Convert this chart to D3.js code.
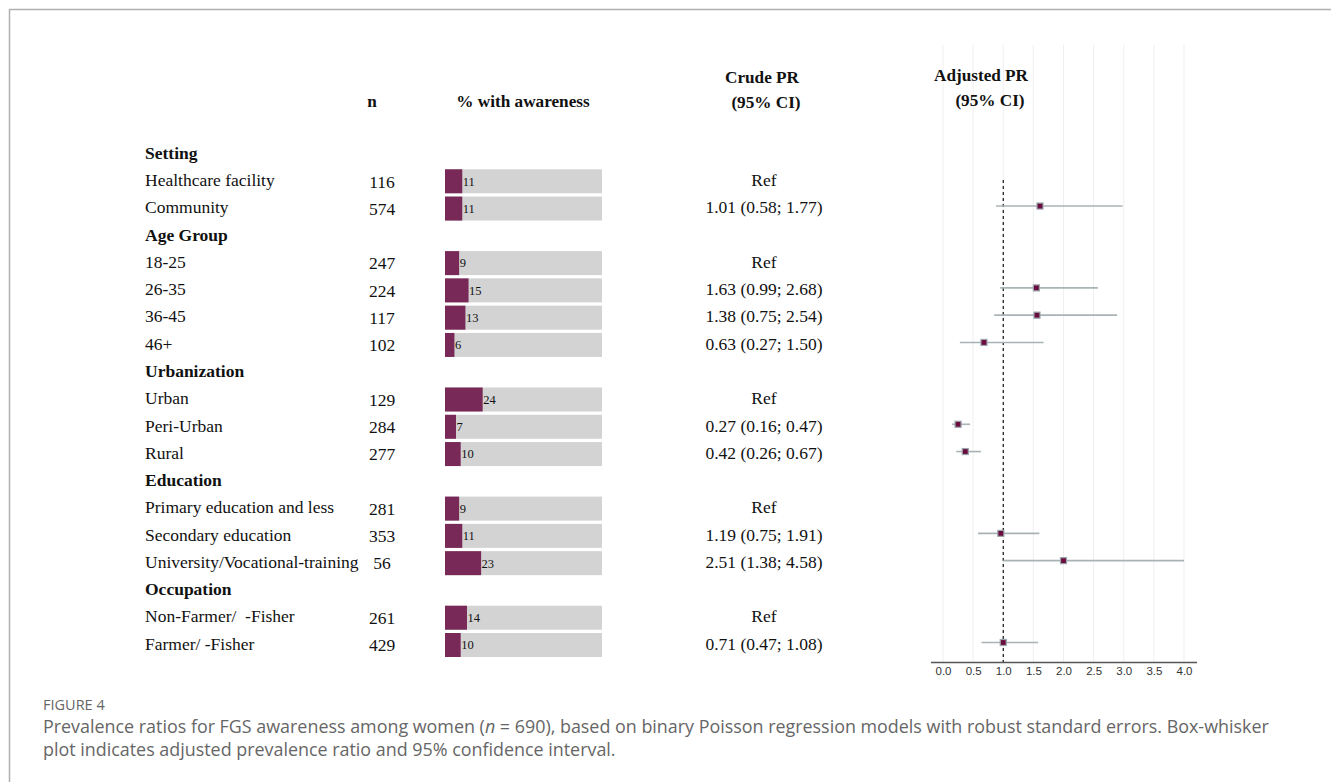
<!DOCTYPE html>
<html>
<head>
<meta charset="utf-8">
<script src="https://cdn.jsdelivr.net/npm/d3@7"></script>
<style>
  html, body { margin: 0; padding: 0; background: #fff; }
  svg { display: block; }
  text { white-space: pre; }
</style>
</head>
<body>
<svg id="chart" width="1331" height="782"></svg>
<script>
// Row labels (group headers flagged), sample sizes, awareness %, crude PR text
const rowLabels = [
  "Setting", "Healthcare facility", "Community",
  "Age Group", "18-25", "26-35", "36-45", "46+",
  "Urbanization", "Urban", "Peri-Urban", "Rural",
  "Education", "Primary education and less", "Secondary education", "University/Vocational-training",
  "Occupation", "Non-Farmer/  -Fisher", "Farmer/ -Fisher"
];
const isGroup = [1,0,0, 1,0,0,0,0, 1,0,0,0, 1,0,0,0, 1,0,0];
const nValues = [null,116,574, null,247,224,117,102, null,129,284,277, null,281,353,56, null,261,429];
const awarenessPct = [null,11,11, null,9,15,13,6, null,24,7,10, null,9,11,23, null,14,10];
const crudePR = [null,"Ref","1.01 (0.58; 1.77)", null,"Ref","1.63 (0.99; 2.68)","1.38 (0.75; 2.54)","0.63 (0.27; 1.50)",
  null,"Ref","0.27 (0.16; 0.47)","0.42 (0.26; 0.67)", null,"Ref","1.19 (0.75; 1.91)","2.51 (1.38; 4.58)",
  null,"Ref","0.71 (0.47; 1.08)"];

// Adjusted prevalence ratios with 95% CI (null = reference / header)
const adjEst = [null,null,1.61, null,null,1.55,1.56,0.68, null,null,0.25,0.37, null,null,0.96,2.00, null,null,1.00];
const adjLow = [null,null,0.88, null,null,0.95,0.85,0.28, null,null,0.15,0.22, null,null,0.58,1.00, null,null,0.64];
const adjHigh = [null,null,2.98, null,null,2.57,2.89,1.67, null,null,0.45,0.63, null,null,1.60,4.00, null,null,1.58];
const axisTicks = [0,0.5,1,1.5,2,2.5,3,3.5,4];

const svg = d3.select("#chart");
const serif = "'Liberation Serif', 'Times New Roman', serif";
const sans = "'Liberation Sans', Arial, sans-serif";

// frame
svg.append("line").attr("x1", 9).attr("x2", 1331).attr("y1", 9.5).attr("y2", 9.5)
  .attr("stroke", "#b0b0b0").attr("stroke-width", 1.5);
svg.append("line").attr("x1", 9.5).attr("x2", 9.5).attr("y1", 9).attr("y2", 782)
  .attr("stroke", "#b0b0b0").attr("stroke-width", 1.5);

const idx = d3.range(rowLabels.length);
const y = d3.scalePoint().domain(idx).range([153, 644]);

// forest scale
const x = d3.scaleLinear().domain([0, 4]).range([943, 1184]);
const axisY = 662;

// vertical grid lines
svg.append("g").selectAll("line").data(axisTicks).join("line")
  .attr("x1", d => x(d)).attr("x2", d => x(d))
  .attr("y1", 45).attr("y2", axisY)
  .attr("stroke", "#efefef").attr("stroke-width", 1);

// headers
const hdr = svg.append("g").attr("font-family", serif).attr("font-weight", "bold")
  .attr("font-size", 17.2).attr("fill", "#111").attr("text-anchor", "middle");
hdr.append("text").attr("x", 372).attr("y", 107).text("n");
hdr.append("text").attr("x", 523).attr("y", 107).text("% with awareness");
hdr.append("text").attr("x", 762).attr("y", 83).text("Crude PR");
hdr.append("text").attr("x", 766).attr("y", 108).text("(95% CI)");
hdr.append("text").attr("x", 981).attr("y", 81).text("Adjusted PR");
hdr.append("text").attr("x", 990).attr("y", 106).text("(95% CI)");

// row labels
svg.append("g").selectAll("text").data(idx).join("text")
  .attr("x", 145).attr("y", i => y(i)).attr("dy", "0.33em")
  .attr("font-family", serif).attr("font-size", 17.5)
  .attr("font-weight", i => isGroup[i] ? "bold" : "normal")
  .attr("fill", "#111").text(i => rowLabels[i]);

// n column
const dataRows = idx.filter(i => !isGroup[i]);
svg.append("g").selectAll("text").data(dataRows).join("text")
  .attr("x", 382).attr("y", i => y(i) + 1.5).attr("dy", "0.33em")
  .attr("text-anchor", "middle").attr("font-family", serif).attr("font-size", 17.5)
  .attr("fill", "#111").text(i => nValues[i]);

// awareness bars
const bx = d3.scaleLinear().domain([0, 100]).range([445, 602]);
const barH = 24;
const bars = svg.append("g");
bars.selectAll("rect.bg").data(dataRows).join("rect").attr("class", "bg")
  .attr("x", bx(0)).attr("width", bx(100) - bx(0))
  .attr("y", i => y(i) - barH / 2 + 1).attr("height", barH)
  .attr("fill", "#d3d3d3");
bars.selectAll("rect.fg").data(dataRows).join("rect").attr("class", "fg")
  .attr("x", bx(0)).attr("width", i => bx(awarenessPct[i]) - bx(0))
  .attr("y", i => y(i) - barH / 2 + 1).attr("height", barH)
  .attr("fill", "#782957");
bars.selectAll("text").data(dataRows).join("text")
  .attr("x", i => bx(awarenessPct[i]) + 0.5).attr("y", i => y(i) + 1).attr("dy", "0.35em")
  .attr("font-family", serif).attr("font-size", 12.5).attr("fill", "#111")
  .text(i => awarenessPct[i]);

// crude PR column
svg.append("g").selectAll("text").data(dataRows).join("text")
  .attr("x", 764).attr("y", i => y(i)).attr("dy", "0.33em")
  .attr("text-anchor", "middle").attr("font-family", serif).attr("font-size", 17.5)
  .attr("fill", "#111").text(i => crudePR[i]);

// reference line at PR = 1
svg.append("line").attr("x1", x(1)).attr("x2", x(1)).attr("y1", 180).attr("y2", axisY)
  .attr("stroke", "#111").attr("stroke-width", 1.2).attr("stroke-dasharray", "3,3");

// adjusted PR: CI whiskers and point estimates
const estRows = idx.filter(i => adjEst[i] !== null);
const forest = svg.append("g");
forest.selectAll("line").data(estRows).join("line")
  .attr("x1", i => x(adjLow[i])).attr("x2", i => x(adjHigh[i]))
  .attr("y1", i => y(i) - 1.5).attr("y2", i => y(i) - 1.5)
  .attr("stroke", "#a9b3b5").attr("stroke-width", 1.6);
forest.selectAll("rect").data(estRows).join("rect")
  .attr("x", i => x(adjEst[i]) - 3).attr("y", i => y(i) - 4.5)
  .attr("width", 6).attr("height", 6)
  .attr("fill", "#6a0d3e").attr("stroke", "#9aa4aa").attr("stroke-width", 1.2);

// x axis
const axis = svg.append("g").attr("transform", `translate(0,${axisY})`)
  .call(d3.axisBottom(x).tickValues(axisTicks).tickFormat(d3.format(".1f")).tickSize(0).tickPadding(5));
axis.select(".domain").attr("d", `M931,0.5H1197`).attr("stroke", "#555").attr("stroke-width", 1.3);
axis.selectAll("text").attr("font-family", sans).attr("font-size", 11.5).attr("fill", "#333");

// caption
const cap = svg.append("g").attr("font-family", "'Open Sans', sans-serif").attr("fill", "#666");
cap.append("text").attr("x", 43).attr("y", 710).attr("font-size", 14.5).text("FIGURE 4");
const l1 = cap.append("text").attr("x", 43).attr("y", 733).attr("font-size", 17.9);
l1.append("tspan").text("Prevalence ratios for FGS awareness among women (");
l1.append("tspan").attr("font-style", "italic").text("n");
l1.append("tspan").text(" = 690), based on binary Poisson regression models with robust standard errors. Box-whisker");
cap.append("text").attr("x", 43).attr("y", 756).attr("font-size", 17.9)
  .text("plot indicates adjusted prevalence ratio and 95% confidence interval.");
</script>
</body>
</html>
